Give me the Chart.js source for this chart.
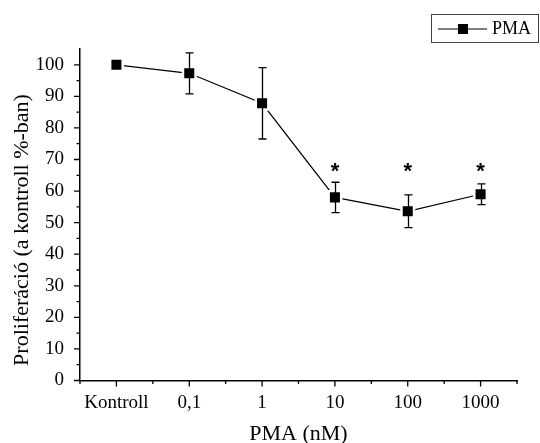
<!DOCTYPE html>
<html><head><meta charset="utf-8">
<script src="https://cdn.jsdelivr.net/npm/chart.js@4"></script>
<style>html,body{margin:0;padding:0;background:#fff}#wrap{width:540px;height:443px}</style>
</head><body><div id="wrap"><canvas id="c" width="540" height="443"></canvas></div>
<script>
const categories = ['Kontroll', '0,1', '1', '10', '100', '1000'];
const proliferation = [100, 97.3, 87.8, 58.0, 53.6, 59.0];
const errors = [0, 6.5, 11.3, 4.8, 5.2, 3.3];
const significant = [false, false, false, true, true, true];
const yTickValues = [0, 10, 20, 30, 40, 50, 60, 70, 80, 90, 100];
const seriesLabel = 'PMA';
const xTitle = 'PMA (nM)';
const yTitle = 'Proliferáció (a kontroll %-ban)';
const starLevel = 67.5;

const SERIF = '"Liberation Serif", "Times New Roman", serif';
const points = proliferation.map((v, i) => ({x: i + 1, y: v}));

const decor = {
  id: 'decor',
  afterDatasetsDraw(chart) {
    const ctx = chart.ctx, xs = chart.scales.x, ys = chart.scales.y;
    ctx.save();
    ctx.strokeStyle = '#000'; ctx.lineWidth = 1.3;
    proliferation.forEach((v, i) => {
      const e = errors[i]; if (!e) return;
      const px = Math.round(xs.getPixelForValue(i + 1)) + 0.5;
      const top = ys.getPixelForValue(v + e), bot = ys.getPixelForValue(v - e);
      ctx.beginPath();
      ctx.moveTo(px, top); ctx.lineTo(px, bot);
      ctx.moveTo(px - 4, top); ctx.lineTo(px + 4, top);
      ctx.moveTo(px - 4, bot); ctx.lineTo(px + 4, bot);
      ctx.stroke();
    });
    ctx.fillStyle = '#000';
    ctx.font = 'bold 22px "Liberation Sans", Arial, sans-serif';
    ctx.textAlign = 'center'; ctx.textBaseline = 'middle';
    significant.forEach((s, i) => {
      if (!s) return;
      ctx.fillText('*', xs.getPixelForValue(i + 1), ys.getPixelForValue(starLevel) + 5);
    });
    ctx.restore();
  },
  afterDraw(chart) {
    const ctx = chart.ctx, xs = chart.scales.x, ys = chart.scales.y;
    const area = chart.chartArea;
    ctx.save();
    ctx.strokeStyle = '#000'; ctx.lineWidth = 1.3;
    ctx.beginPath();
    const yb = area.bottom;
    for (let k = 0; k <= categories.length; k++) {
      const pm = xs.getPixelForValue(k + 0.5);
      ctx.moveTo(pm, yb); ctx.lineTo(pm, yb + 3.5);
      if (k < categories.length) {
        const p = xs.getPixelForValue(k + 1);
        ctx.moveTo(p, yb); ctx.lineTo(p, yb + 6);
      }
    }
    const xl = area.left;
    yTickValues.forEach((v, i) => {
      const p = ys.getPixelForValue(v);
      ctx.moveTo(xl, p); ctx.lineTo(xl - 6, p);
      if (i < yTickValues.length - 1) {
        const pm = ys.getPixelForValue((v + yTickValues[i + 1]) / 2);
        ctx.moveTo(xl, pm); ctx.lineTo(xl - 3.5, pm);
      }
    });
    ctx.stroke();
    // y axis title
    ctx.save();
    ctx.translate(22, 230);
    ctx.rotate(-Math.PI / 2);
    ctx.fillStyle = '#000';
    ctx.font = '22px ' + SERIF;
    ctx.textAlign = 'center'; ctx.textBaseline = 'middle';
    ctx.fillText(yTitle, 0, 0);
    ctx.restore();
    // legend
    ctx.strokeStyle = '#444'; ctx.lineWidth = 1;
    ctx.strokeRect(431.5, 14.5, 107, 28);
    ctx.strokeStyle = '#000'; ctx.lineWidth = 1.2;
    ctx.beginPath(); ctx.moveTo(438, 29); ctx.lineTo(487, 29); ctx.stroke();
    ctx.fillStyle = '#000';
    ctx.fillRect(458, 24, 10, 10);
    ctx.font = '18px ' + SERIF;
    ctx.textAlign = 'left'; ctx.textBaseline = 'middle';
    ctx.fillText(chart.data.datasets[0].label, 492, 29);
    ctx.restore();
  }
};

new Chart(document.getElementById('c'), {
  type: 'line',
  data: {
    datasets: [
      {label: seriesLabel, data: points, borderColor: '#000', borderWidth: 1.2, pointRadius: 0, fill: false, order: 3, tension: 0},
      {label: 'halo', data: points, showLine: false, pointStyle: 'rect', pointRadius: 10.6, pointBackgroundColor: '#fff', pointBorderWidth: 0, order: 2},
      {label: 'markers', data: points, showLine: false, pointStyle: 'rect', pointRadius: 7.1, pointBackgroundColor: '#000', pointBorderWidth: 0, order: 1}
    ]
  },
  options: {
    responsive: false, animation: false, devicePixelRatio: 1,
    layout: {padding: {top: 49, right: 23, left: 0, bottom: 0}},
    plugins: {legend: {display: false}, tooltip: {enabled: false}},
    scales: {
      x: {
        type: 'linear', min: 0.5, max: 6.5,
        afterBuildTicks: s => { s.ticks = categories.map((c, i) => ({value: i + 1})); },
        afterFit: s => { s.height = 62.5; },
        ticks: {callback: v => categories[Math.round(v) - 1] ?? '', font: {family: SERIF, size: 19}, color: '#000', padding: 3, maxRotation: 0, autoSkip: false},
        grid: {display: false},
        border: {display: true, color: '#000', width: 1.5},
        title: {display: true, text: xTitle, color: '#000', font: {family: SERIF, size: 22, lineHeight: 0.8}, padding: 0}
      },
      y: {
        type: 'linear', min: 0, max: 105,
        afterBuildTicks: s => { s.ticks = yTickValues.map(v => ({value: v})); },
        afterFit: s => { s.width = 80; },
        ticks: {font: {family: SERIF, size: 19}, color: '#000', padding: 8},
        grid: {display: false},
        border: {display: true, color: '#000', width: 1.5},
        title: {display: false, text: yTitle}
      }
    }
  },
  plugins: [decor]
});
</script>
</body></html>
